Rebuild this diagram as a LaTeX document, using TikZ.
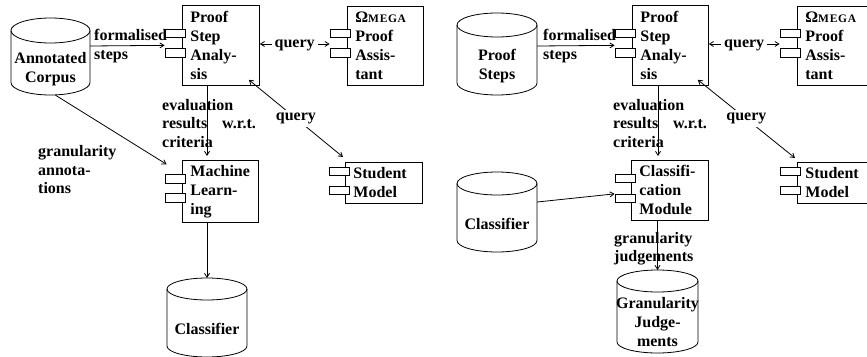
\documentclass[tikz,border=0pt]{standalone}
\usepackage{fontspec}
\setmainfont{Liberation Serif}
\usetikzlibrary{arrows.meta}
\tikzset{
  every node/.style={font=\fontsize{16}{19}\selectfont\bfseries},
  ln/.style={line width=0.8pt},
  comp/.style={draw, line width=0.8pt, anchor=north west, inner xsep=8pt, inner ysep=0pt, align=left},
  port/.style={draw, fill=white, line width=0.8pt, minimum width=20pt, minimum height=8.5pt, inner sep=0pt},
  arr/.style={ln, -{Straight Barb[length=4pt,width=5pt]}},
  arrb/.style={ln, {Straight Barb[length=4pt,width=5pt]}-{Straight Barb[length=4pt,width=5pt]}},
  lbl/.style={anchor=base west, inner sep=0pt},
  qlbl/.style={fill=white, inner sep=3pt, anchor=base},
  cyltext/.style={inner sep=0pt, align=center},
}
\newcommand\dbcyl[7]{% name, xl, xr, ytop, ybot, ry, text
  \pgfmathsetmacro\cylcx{(#2+#3)/2}%
  \pgfmathsetmacro\cylrx{(#3-#2)/2}%
  \pgfmathsetmacro\cylyc{#4+#6}%
  \pgfmathsetmacro\cylyb{#5-#6}%
  \pgfmathsetmacro\cylmid{(#4+2*#6+#5)/2}%
  \pgfmathsetmacro\cylh{#5-#4-2*#6}%
  \draw[ln] (\cylcx,\cylyc) ellipse[x radius=\cylrx pt, y radius=#6pt];
  \draw[ln] (#2,\cylyc) -- (#2,\cylyb) arc[start angle=180, end angle=360, x radius=\cylrx pt, y radius=#6pt] -- (#3,\cylyc);
  \node[cyltext, minimum width=\cylrx*2pt, minimum height=\cylh pt] (#1) at (\cylcx,\cylmid) {#7};
  \coordinate (#1top) at (\cylcx,#4);
}
\newcommand\omegatxt{\textbf{Ω}{\fontsize{11.5}{19}\selectfont\addfontfeatures{LetterSpace=6}MEGA}}
\begin{document}
\begin{tikzpicture}[x=1pt,y=-1pt]
\clip (0,0) rectangle (867,356);
\fill[white] (0,0) rectangle (867,356);
\coordinate (y44) at (0,44);
\coordinate (y46) at (0,46);
\coordinate (xl207) at (207,0);
\coordinate (xr658) at (658,0);

% ---------------- left panel ----------------
\dbcyl{corpus}{11}{90}{18}{95}{12.5}{Annotated\\Corpus}
\dbcyl{clsL}{167}{247}{278}{357}{11}{Classifier}

\node[comp, text width=61pt, minimum height=80pt] (psaL) at (182,5) {Proof\\Step\\Analy-\\sis};
\node[comp, text width=60pt, minimum height=79pt] (omL) at (347,6) {\omegatxt\\Proof\\Assis-\\tant};
\node[comp, text width=61pt, minimum height=41pt] (smL) at (345,162) {Student\\Model};
\node[comp, text width=60pt, minimum height=62pt] (mlL) at (182,160) {Machine\\Learn-\\ing};

\node[port] (psaLp1) at (175,33.5) {};
\node[port] (psaLp2) at (175,53) {};
\node[port] (omLp1) at (340,33.5) {};
\node[port] (omLp2) at (340,53) {};
\node[port] (smLp1) at (339.5,171.5) {};
\node[port] (smLp2) at (339.5,190.5) {};
\node[port] (mlLp1) at (175,179) {};
\node[port] (mlLp2) at (175,198) {};

\draw[arr] (corpus.east |- y46) -- ([yshift=3pt]psaLp2.north west);
\node[lbl] (fsL1) at (94,40) {formalised};
\node[lbl] (fsL2) at (94,59) {steps};

\draw[arrb] (psaL.east |- y44) -- (omLp1.west |- y44)
  node[midway, qlbl, yshift=-3.5pt] (qL1) {query};
\draw[arrb] ([xshift=-11pt,yshift=6pt]psaL.south east) -- ([xshift=-2pt,yshift=5pt]smL.north west)
  node[midway, qlbl, yshift=-2pt] (qL2) {query};

\draw[arr] (psaL.south -| xl207) -- ([yshift=4pt]mlL.north -| xl207);
\node[lbl] (evL1) at (162,110) {evaluation};
\node[lbl] (evL2) at (162,128.5) {results};
\node[lbl] (evL3) at (222,128.5) {w.r.t.};
\node[lbl] (evL4) at (162,147) {criteria};

\draw[arr] ([xshift=5pt]corpus.south) -- ([xshift=2pt,yshift=10pt]mlLp1.north west);
\node[lbl] (gaL1) at (38,156.5) {granularity};
\node[lbl] (gaL2) at (38,175) {annota-};
\node[lbl] (gaL3) at (38,193.5) {tions};

\draw[arr] (mlL.south -| clsLtop) -- (clsLtop);

% ---------------- right panel ----------------
\dbcyl{psteps}{457}{537}{13}{95}{12}{Proof\\Steps}
\dbcyl{clsR}{457}{537}{172}{252}{11.5}{Classifier}
\dbcyl{gj}{617}{698}{270}{353}{11}{Granularity\\Judge-\\ments}

\node[comp, text width=60pt, minimum height=80pt] (psaR) at (632,5) {Proof\\Step\\Analy-\\sis};
\node[comp, text width=60pt, minimum height=79pt] (omR) at (797,6) {\omegatxt\\Proof\\Assis-\\tant};
\node[comp, text width=61pt, minimum height=41pt] (smR) at (797,162) {Student\\Model};
\node[comp, text width=61pt, minimum height=60pt] (clsM) at (631,160) {Classifi-\\cation\\Module};

\node[port] (psaRp1) at (625,33.5) {};
\node[port] (psaRp2) at (625,53) {};
\node[port] (omRp1) at (790,33.5) {};
\node[port] (omRp2) at (790,53) {};
\node[port] (smRp1) at (790,171.5) {};
\node[port] (smRp2) at (790,190.5) {};
\node[port] (clsMp1) at (625,178.5) {};
\node[port] (clsMp2) at (625,198.5) {};

\draw[arr] (psteps.east |- y46) -- ([yshift=3pt]psaRp2.north west);
\node[lbl] (fsR1) at (543,40) {formalised};
\node[lbl] (fsR2) at (543,59) {steps};

\draw[arrb] (psaR.east |- y44) -- (omRp1.west |- y44)
  node[midway, qlbl, yshift=-3.5pt] (qR1) {query};
\draw[arrb] ([xshift=-11pt,yshift=6pt]psaR.south east) -- ([xshift=-2pt,yshift=4pt]smR.north west)
  node[midway, qlbl, yshift=-2pt] (qR2) {query};

\draw[arr] (psaR.south -| xr658) -- ([yshift=4pt]clsM.north -| xr658);
\node[lbl] (evR1) at (613,110) {evaluation};
\node[lbl] (evR2) at (613,128.5) {results};
\node[lbl] (evR3) at (673,128.5) {w.r.t.};
\node[lbl] (evR4) at (613,147) {criteria};

\draw[arr] ([yshift=21.5pt]clsR.east) -- (clsMp2.north west);

\draw[arr] (clsM.south -| gjtop) -- (gjtop);
\node[lbl] (gjl1) at (614,243) {granularity};
\node[lbl] (gjl2) at (614,261) {judgements};
\end{tikzpicture}
\end{document}
